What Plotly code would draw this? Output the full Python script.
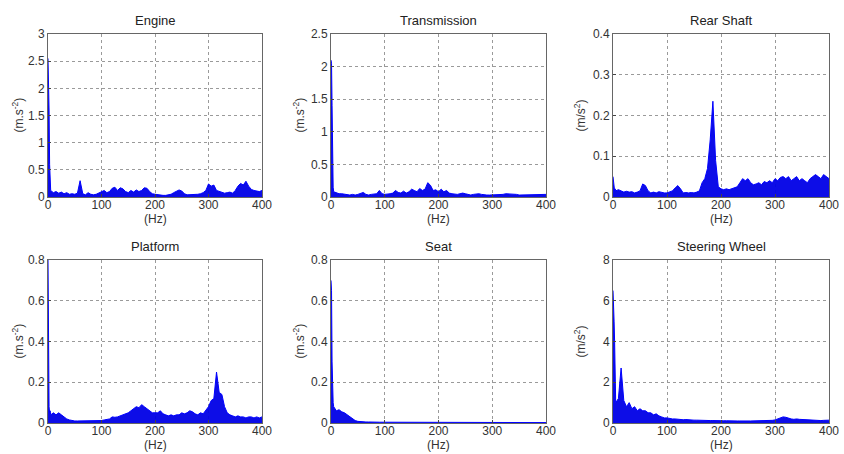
import plotly.graph_objects as go

# Frequency grid (Hz)
freq = [0, 1, 2, 3, 4, 5] + list(range(10, 401, 5))

engine = [2.55, 2.2, 1.6, 0.6, 0.2, 0.12,
          0.08, 0.1, 0.07, 0.09, 0.06, 0.08, 0.05, 0.06, 0.05, 0.07, 0.3, 0.06, 0.04, 0.08,
          0.05, 0.04, 0.05, 0.07, 0.1, 0.12, 0.08, 0.1, 0.16, 0.18, 0.12, 0.17, 0.15, 0.1,
          0.08, 0.12, 0.09, 0.13, 0.1, 0.12, 0.17, 0.16, 0.1, 0.06, 0.05, 0.04, 0.03, 0.03,
          0.03, 0.04, 0.05, 0.08, 0.1, 0.13, 0.11, 0.06, 0.04, 0.04, 0.05, 0.04, 0.05, 0.06,
          0.08, 0.12, 0.24, 0.2, 0.22, 0.12, 0.1, 0.08, 0.07, 0.08, 0.09, 0.07, 0.12, 0.2,
          0.25, 0.22, 0.29, 0.2, 0.14, 0.12, 0.11, 0.1, 0.12]

transmission = [2.1, 2.05, 1.4, 0.5, 0.15, 0.08,
                0.06, 0.05, 0.05, 0.04, 0.04, 0.03, 0.04, 0.03, 0.04, 0.05, 0.07, 0.04, 0.03, 0.04,
                0.04, 0.05, 0.1, 0.05, 0.04, 0.04, 0.05, 0.06, 0.1, 0.07, 0.06, 0.09, 0.06, 0.08,
                0.12, 0.1, 0.08, 0.13, 0.1, 0.12, 0.22, 0.18, 0.1, 0.11, 0.08, 0.12, 0.08, 0.1,
                0.06, 0.05, 0.04, 0.04, 0.05, 0.06, 0.05, 0.04, 0.03, 0.04, 0.05, 0.05, 0.04, 0.03,
                0.03, 0.03, 0.03, 0.03, 0.04, 0.04, 0.04, 0.05, 0.05, 0.05, 0.04, 0.04, 0.03, 0.03,
                0.03, 0.03, 0.03, 0.04, 0.04, 0.04, 0.04, 0.04, 0.04]

rear_shaft = [0.05, 0.04, 0.02, 0.015, 0.02, 0.015,
              0.018, 0.015, 0.012, 0.014, 0.012, 0.013, 0.01, 0.012, 0.015, 0.032, 0.028, 0.015, 0.01, 0.012,
              0.01, 0.013, 0.011, 0.01, 0.01, 0.012, 0.015, 0.022, 0.028, 0.02, 0.01, 0.011, 0.01, 0.011,
              0.01, 0.012, 0.015, 0.035, 0.045, 0.07, 0.14, 0.235, 0.09, 0.025, 0.02, 0.018, 0.02, 0.018,
              0.02, 0.022, 0.025, 0.035, 0.045, 0.04, 0.045, 0.035, 0.03, 0.032, 0.035, 0.03, 0.038, 0.035,
              0.04, 0.035, 0.045, 0.04, 0.048, 0.05, 0.045, 0.05, 0.04, 0.045, 0.05, 0.04, 0.045, 0.04,
              0.035, 0.045, 0.05, 0.055, 0.05, 0.045, 0.055, 0.05, 0.045]

platform = [0.8, 0.3, 0.08, 0.05, 0.06, 0.04,
            0.05, 0.04, 0.05, 0.04, 0.03, 0.02, 0.015, 0.012, 0.01, 0.01, 0.01, 0.012, 0.01, 0.01,
            0.01, 0.012, 0.01, 0.012, 0.012, 0.015, 0.018, 0.02, 0.03, 0.028, 0.03, 0.035, 0.04, 0.045,
            0.05, 0.06, 0.07, 0.08, 0.075, 0.09, 0.08, 0.07, 0.06, 0.05, 0.05, 0.05, 0.06, 0.045,
            0.04, 0.035, 0.04, 0.035, 0.04, 0.04, 0.05, 0.045, 0.05, 0.06, 0.055, 0.045, 0.04, 0.05,
            0.045, 0.06, 0.08, 0.11, 0.12, 0.25, 0.15, 0.14, 0.08, 0.05, 0.04, 0.035, 0.03, 0.035,
            0.03, 0.03, 0.025, 0.03, 0.03, 0.025, 0.03, 0.025, 0.03]

seat = [0.7, 0.65, 0.3, 0.13, 0.1, 0.08,
        0.06, 0.065, 0.055, 0.05, 0.04, 0.03, 0.02, 0.012, 0.008, 0.006, 0.005, 0.005, 0.005, 0.004,
        0.004, 0.004, 0.004, 0.004, 0.004, 0.003, 0.003, 0.003, 0.003, 0.003, 0.003, 0.003, 0.003, 0.002,
        0.002, 0.002, 0.002, 0.002, 0.002, 0.002, 0.002, 0.002, 0.002, 0.002, 0.002, 0.002, 0.002, 0.002,
        0.002, 0.002, 0.002, 0.002, 0.002, 0.002, 0.002, 0.002, 0.002, 0.002, 0.002, 0.002, 0.002, 0.002,
        0.002, 0.002, 0.002, 0.002, 0.002, 0.002, 0.002, 0.002, 0.002, 0.002, 0.002, 0.002, 0.002, 0.002,
        0.002, 0.002, 0.002, 0.002, 0.002, 0.002, 0.002, 0.002, 0.002]

steering = [6.5, 6.0, 5.0, 4.0, 2.0, 1.0,
            1.2, 2.7, 1.1, 0.8, 1.0, 0.7, 0.8, 0.6, 0.7, 0.6, 0.6, 0.5, 0.5, 0.4,
            0.45, 0.35, 0.3, 0.25, 0.25, 0.22, 0.2, 0.2, 0.18, 0.18, 0.16, 0.17, 0.15, 0.15,
            0.14, 0.14, 0.13, 0.13, 0.12, 0.12, 0.12, 0.12, 0.11, 0.11, 0.12, 0.11, 0.11, 0.1,
            0.1, 0.11, 0.1, 0.1, 0.11, 0.1, 0.1, 0.1, 0.1, 0.11, 0.1, 0.1, 0.11, 0.12,
            0.12, 0.13, 0.15, 0.2, 0.25, 0.3, 0.28, 0.22, 0.2, 0.18, 0.2, 0.18, 0.17, 0.15,
            0.15, 0.14, 0.13, 0.14, 0.13, 0.12, 0.13, 0.13, 0.14]

titles = ["Engine", "Transmission", "Rear Shaft", "Platform", "Seat", "Steering Wheel"]
ylabels = ["(m.s<sup>-2</sup>)", "(m.s<sup>-2</sup>)", "(m/s<sup>2</sup>)",
           "(m.s<sup>-2</sup>)", "(m.s<sup>-2</sup>)", "(m/s<sup>2</sup>)"]
series = [engine, transmission, rear_shaft, platform, seat, steering]
yranges = [3, 2.5, 0.4, 0.8, 0.8, 8]
ydticks = [0.5, 0.5, 0.1, 0.2, 0.2, 2]
xticks = [0, 100, 200, 300, 400]

W, H = 844, 454
col_px = [(48, 262), (331, 546), (613, 829)]
row_px = [(34, 197), (260, 423)]
ylab_x = [17, 298, 579]

FONT = "Liberation Sans, Arial, sans-serif"
fig = go.Figure()
layout = dict(width=W, height=H, margin=dict(l=0, r=0, t=0, b=0, pad=0),
              paper_bgcolor="white", plot_bgcolor="white", showlegend=False,
              font=dict(family=FONT, size=12, color="#333"))
annotations = []

for i in range(6):
    r, c = divmod(i, 3)
    n = "" if i == 0 else str(i + 1)
    x0, x1 = col_px[c]
    yt, yb = row_px[r]
    fig.add_trace(go.Scatter(x=freq, y=series[i], mode="lines",
                             line=dict(color="#0000ff", width=1),
                             fill="tozeroy", fillcolor="rgba(0,0,230,0.95)",
                             xaxis="x" + n, yaxis="y" + n, hoverinfo="skip"))
    layout["xaxis" + n] = dict(domain=[x0 / W, x1 / W], anchor="y" + n, range=[0, 400],
                              tickvals=xticks, ticks="inside", ticklen=3, tickcolor="#444",
                              ticklabelstandoff=-3,
                              showline=True, linecolor="#666", linewidth=1, mirror=True,
                              showgrid=True, gridcolor="#9a9a9a", griddash="dot", gridwidth=1,
                              zeroline=False, automargin=False,
                              tickfont=dict(size=12, color="#333"))
    layout["yaxis" + n] = dict(domain=[1 - yb / H, 1 - yt / H], anchor="x" + n,
                              range=[0, yranges[i]], dtick=ydticks[i], ticks="inside",
                              ticklen=3, tickcolor="#444",
                              showline=True, linecolor="#666", linewidth=1, mirror=True,
                              showgrid=True, gridcolor="#9a9a9a", griddash="dot", gridwidth=1,
                              zeroline=False, automargin=False,
                              tickfont=dict(size=12, color="#333"))
    annotations.append(dict(text=titles[i], x=(x0 + x1) / 2 / W, y=1 - (yt - 14) / H,
                            xref="paper", yref="paper", showarrow=False,
                            xanchor="center", yanchor="middle",
                            font=dict(size=13, color="#222", family=FONT)))
    annotations.append(dict(text="(Hz)", x=(x0 + x1) / 2 / W, y=1 - (yb + 22) / H,
                            xref="paper", yref="paper", showarrow=False,
                            xanchor="center", yanchor="middle",
                            font=dict(size=12, color="#333", family=FONT)))
    annotations.append(dict(text=ylabels[i], x=ylab_x[c] / W, y=1 - (yt + yb) / 2 / H,
                            xref="paper", yref="paper", showarrow=False, textangle=-90,
                            xanchor="center", yanchor="middle",
                            font=dict(size=12, color="#333", family=FONT)))

layout["annotations"] = annotations
fig.update_layout(**layout)
fig.write_html("out.html", config={"displayModeBar": False},
               post_script="document.body.style.margin='0';document.body.style.overflow='hidden';")
